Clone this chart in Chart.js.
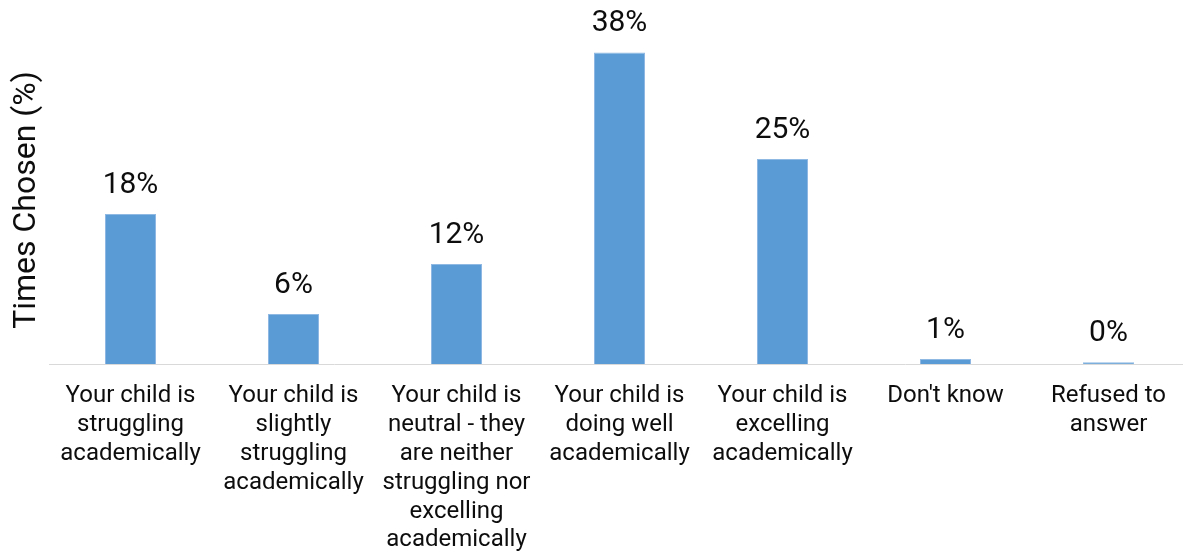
<!DOCTYPE html>
<html>
<head>
<meta charset="utf-8">
<script src="https://cdn.jsdelivr.net/npm/chart.js@4/dist/chart.umd.min.js"></script>
<style>
  html, body { margin: 0; padding: 0; background: #fff; overflow: hidden; }
  /* the original plot runs a few pixels past the right edge of the picture */
  #wrap { width: 1190px; height: 552px; position: relative; }
</style>
</head>
<body>
<div id="wrap"><canvas id="chart"></canvas></div>
<script>
// categories (multi-line, as wrapped in the original)
const categories = [
    ["Your child is", "struggling", "academically"],
    ["Your child is", "slightly", "struggling", "academically"],
    ["Your child is", "neutral - they", "are neither", "struggling nor", "excelling", "academically"],
    ["Your child is", "doing well", "academically"],
    ["Your child is", "excelling", "academically"],
    ["Don't know"],
    ["Refused to", "answer"]
];
const values = [18.3, 6.1, 12.2, 38.0, 25.0, 0.6, 0.2];
const valueLabels = ["18%", "6%", "12%", "38%", "25%", "1%", "0%"];

const barColor = "#5b9bd5";
const barEdge = "#8fb9e3";
const textColor = "#0d0d0d";

// draws the % label above each bar
const barLabels = {
    id: 'barLabels',
    afterDatasetsDraw(chart) {
        const ctx = chart.ctx;
        const meta = chart.getDatasetMeta(0);
        ctx.save();
        ctx.font = '30px Roboto';
        ctx.fillStyle = textColor;
        ctx.textAlign = 'center';
        ctx.textBaseline = 'alphabetic';
        meta.data.forEach((bar, i) => {
            ctx.fillText(valueLabels[i], bar.x, bar.y - 21);
        });
        ctx.restore();
    }
};

new Chart(document.getElementById('chart'), {
    type: 'bar',
    data: {
        labels: categories,
        datasets: [{
            data: values,
            backgroundColor: barColor,
            borderColor: barEdge,
            borderWidth: 1,
            categoryPercentage: 1,
            barPercentage: 0.313
        }]
    },
    options: {
        responsive: true,
        maintainAspectRatio: false,
        animation: false,
        layout: { padding: { top: 36, right: 0, bottom: 0, left: 0 } },
        plugins: {
            legend: { display: false },
            tooltip: { enabled: false }
        },
        scales: {
            x: {
                grid: { display: false },
                border: { display: true, color: '#d9d9d9', width: 1 },
                ticks: {
                    color: textColor,
                    font: { family: 'Roboto', size: 24, lineHeight: 1.2 },
                    maxRotation: 0,
                    autoSkip: false,
                    padding: 10
                },
                afterFit(scale) { scale.height = 188; }
            },
            y: {
                min: 0,
                max: 40,
                grid: { display: false },
                border: { display: false },
                ticks: { display: false },
                title: {
                    display: true,
                    text: 'Times Chosen (%)',
                    color: textColor,
                    font: { family: 'Roboto', size: 32 },
                    padding: { top: 8, bottom: 2 }
                },
                afterFit(scale) { scale.width = 49; }
            }
        }
    },
    plugins: [barLabels]
});
</script>
</body>
</html>
